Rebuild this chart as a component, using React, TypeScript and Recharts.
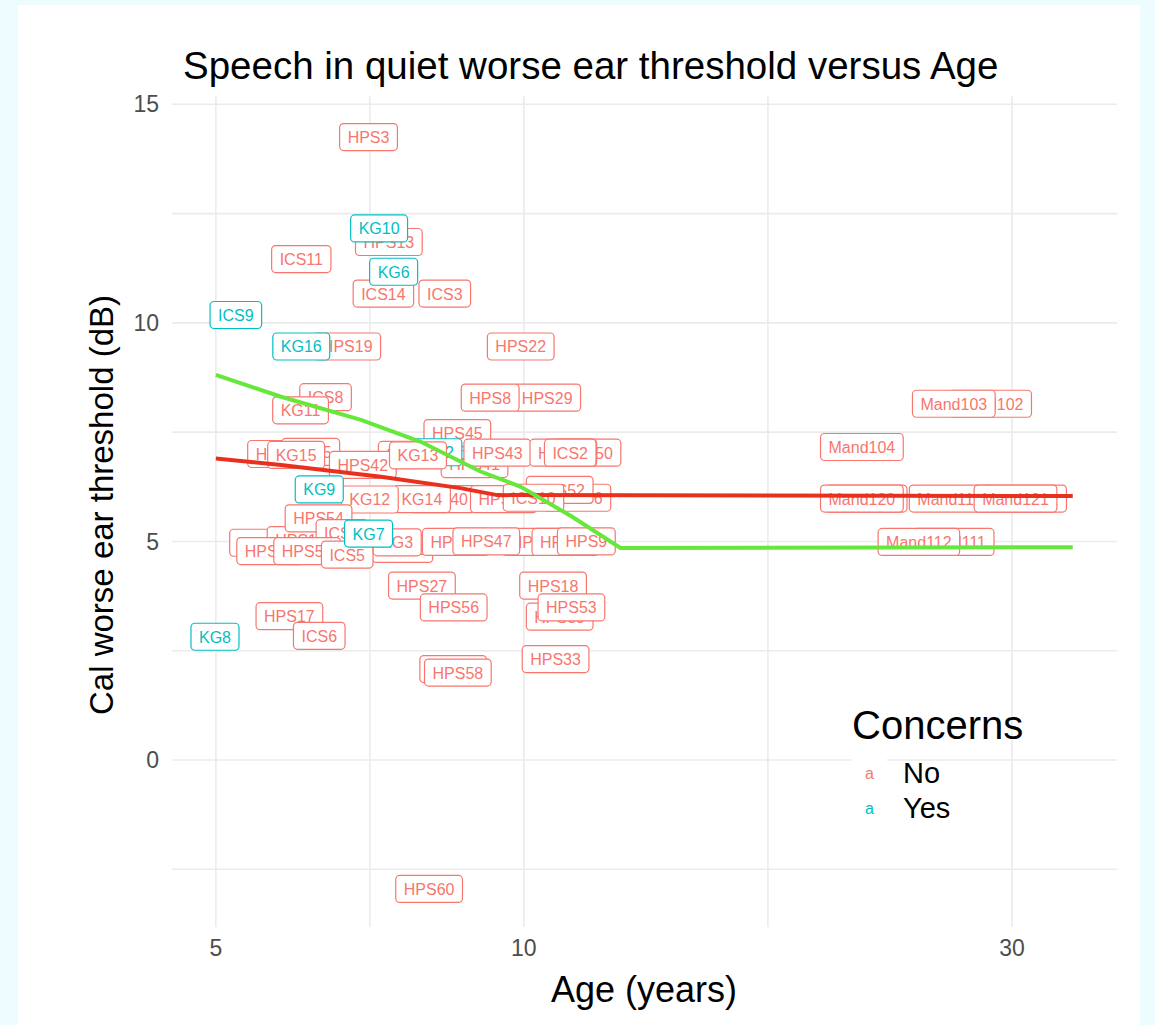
import React from "react";
import {
  CartesianGrid,
  ComposedChart,
  Label,
  Line,
  Scatter,
  XAxis,
  YAxis,
} from "recharts";

// participants, in drawing order (later ones sit on top)
const names = [
  "HPS29", "HPS8", "HPS3", "HPS13", "KG10", "ICS11", "ICS14", "ICS3", "KG6", "ICS9",
  "HPS19", "KG16", "HPS22", "ICS8", "KG11", "HPS45", "HPS44", "HPS41", "HPS12", "HPS5",
  "KG15", "HPS42", "KG2", "KG13", "HPS43", "HPS50", "HPS48", "ICS2", "HPS40", "KG14",
  "HPS46", "HPS36", "HPS52", "ICS10", "KG12", "KG9", "HPS14", "HPS16", "ICS12", "HPS54",
  "ICS7", "HPS24", "HPS57", "ICS5", "KG3", "HPS30", "HPS31", "HPS47", "HPS32", "HPS9",
  "KG7", "HPS27", "HPS56", "HPS18", "HPS39", "HPS53", "HPS17", "ICS6", "KG8", "HPS33",
  "HPS59", "HPS58", "HPS60", "Mand102", "Mand103", "Mand104", "Mand119", "Mand120", "Mand122", "Mand118",
  "Mand121", "Mand111", "Mand112",
];
const ages = [
  10.54, 9.27, 7.05, 7.38, 7.22, 6.06, 7.29, 8.37, 7.46, 5.23,
  6.72, 6.06, 9.93, 6.4, 6.05, 8.61, 7.77, 8.95, 5.79, 6.19,
  5.99, 6.96, 8.24, 7.88, 9.42, 11.54, 10.93, 11.1, 8.33, 7.95,
  9.56, 11.28, 10.84, 10.22, 7.07, 6.31, 5.56, 6.05, 7.61, 6.3,
  6.64, 5.65, 6.14, 6.72, 7.52, 8.58, 10.28, 9.19, 10.98, 11.51,
  7.05, 7.95, 8.54, 10.68, 10.84, 11.13, 5.9, 6.31, 4.99, 10.74,
  8.53, 8.62, 8.08, 28.56, 26.32, 21.4, 21.61, 21.4, 30.9, 26.1,
  30.24, 26.32, 24.33,
];
const thresholds = [
  8.29, 8.29, 14.25, 11.85, 12.16, 11.46, 10.67, 10.67, 11.17, 10.18,
  9.46, 9.46, 9.46, 8.3, 8.0, 7.48, 6.98, 6.77, 7.0, 7.05,
  6.98, 6.75, 7.04, 6.97, 7.03, 7.03, 7.03, 7.03, 5.97, 5.97,
  5.97, 6.0, 6.18, 6.0, 5.96, 6.19, 4.97, 5.03, 4.83, 5.53,
  5.19, 4.78, 4.78, 4.7, 4.98, 4.99, 4.99, 5.0, 4.99, 5.0,
  5.18, 3.99, 3.49, 3.99, 3.28, 3.49, 3.29, 2.84, 2.82, 2.31,
  2.08, 2.0, -2.95, 8.15, 8.15, 7.16, 5.98, 5.98, 5.98, 5.98,
  5.98, 4.99, 4.99,
];
const concerns = [
  "No", "No", "No", "No", "Yes", "No", "No", "No", "Yes", "Yes",
  "No", "Yes", "No", "No", "No", "No", "No", "No", "No", "No",
  "No", "No", "Yes", "No", "No", "No", "No", "No", "No", "No",
  "No", "No", "No", "No", "No", "Yes", "No", "No", "No", "No",
  "No", "No", "No", "No", "No", "No", "No", "No", "No", "No",
  "Yes", "No", "No", "No", "No", "No", "No", "No", "Yes", "No",
  "No", "No", "No", "No", "No", "No", "No", "No", "No", "No",
  "No", "No", "No",
];

// fitted curves
const redFitAges = [5.0, 5.79, 7.25, 8.67, 9.42, 34.4];
const redFitValues = [6.9, 6.75, 6.48, 6.22, 6.06, 6.04];
const greenFitAges = [5.0, 5.79, 6.93, 7.93, 9.07, 9.93, 11.14, 12.43, 34.4];
const greenFitValues = [8.81, 8.31, 7.78, 7.28, 6.6, 6.25, 5.57, 4.85, 4.87];

const xTicks = [5, 7.0711, 10, 17.3205, 30];
const xMajor = [5, 10, 30];
const yTicks = [-2.5, 0, 2.5, 5, 7.5, 10, 12.5, 15];
const yMajor = [0, 5, 10, 15];

const NO_COLOR = "#F8766D";
const YES_COLOR = "#00BFC4";
const FONT = '"Liberation Sans", Arial, sans-serif';

const points = names.map((name, i) => ({
  name,
  age: ages[i],
  thr: thresholds[i],
  concern: concerns[i],
}));
const redFit = redFitAges.map((age, i) => ({ age, thr: redFitValues[i] }));
const greenFit = greenFitAges.map((age, i) => ({ age, thr: greenFitValues[i] }));

let measureCtx: CanvasRenderingContext2D | null = null;
function textWidth(s: string) {
  if (!measureCtx) {
    measureCtx = document.createElement("canvas").getContext("2d");
    if (measureCtx) measureCtx.font = `16px ${FONT}`;
  }
  return measureCtx ? measureCtx.measureText(s).width : s.length * 9;
}

function LabelBox(props: any) {
  const { cx, cy, payload } = props;
  if (cx == null || cy == null) return null;
  const color = payload.concern === "Yes" ? YES_COLOR : NO_COLOR;
  const w = textWidth(payload.name) + 16;
  const h = 27;
  return (
    <g>
      <rect
        x={cx - w / 2}
        y={cy - h / 2}
        width={w}
        height={h}
        rx={4}
        fill="#fff"
        stroke={color}
        strokeWidth={1.2}
      />
      <text
        x={cx}
        y={cy + 6}
        textAnchor="middle"
        fill={color}
        fontSize={16}
        fontFamily={FONT}
      >
        {payload.name}
      </text>
    </g>
  );
}

export default function App() {
  return (
    <div
      style={{
        position: "relative",
        width: 1155,
        height: 1025,
        background: "#EDFCFF",
        fontFamily: FONT,
        overflow: "hidden",
      }}
    >
      <style>{`body{margin:0}`}</style>
      <div
        style={{
          position: "absolute",
          left: 18,
          top: 5,
          width: 1122,
          height: 1020,
          background: "#fff",
        }}
      />
      <div
        style={{
          position: "absolute",
          left: 183,
          top: 44,
          fontSize: 38.5,
          color: "#000",
          whiteSpace: "nowrap",
          lineHeight: "44px",
        }}
      >
        Speech in quiet worse ear threshold versus Age
      </div>
      <div style={{ position: "absolute", left: 0, top: 0 }}>
        <ComposedChart
          width={1155}
          height={1025}
          margin={{ top: 96, right: 38, bottom: 38, left: 92 }}
        >
          <CartesianGrid
            stroke="#EBEBEB"
            strokeWidth={1.6}
            horizontalValues={yTicks}
            verticalValues={xTicks}
          />
          <XAxis
            type="number"
            dataKey="age"
            scale="log"
            domain={[4.53, 38]}
            allowDataOverflow
            ticks={xTicks}
            tickFormatter={(v) => (xMajor.includes(v) ? String(v) : "")}
            tickLine={false}
            axisLine={false}
            tickMargin={7}
            height={60}
            tick={{ fill: "#4D4D4D", fontSize: 23, fontFamily: FONT }}
          >
            <Label
              content={() => (
                <text
                  x={644}
                  y={1002}
                  textAnchor="middle"
                  fontSize={36}
                  fontFamily={FONT}
                  fill="#000"
                >
                  Age (years)
                </text>
              )}
            />
          </XAxis>
          <YAxis
            type="number"
            dataKey="thr"
            domain={[-3.82, 15.19]}
            allowDataOverflow
            ticks={yTicks}
            tickFormatter={(v) => (yMajor.includes(v) ? String(v) : "")}
            tickLine={false}
            axisLine={false}
            tickMargin={7}
            width={80}
            tick={{ fill: "#4D4D4D", fontSize: 23, fontFamily: FONT }}
          >
            <Label
              content={() => (
                <text
                  x={113}
                  y={505}
                  transform="rotate(-90 113 505)"
                  textAnchor="middle"
                  fontSize={33}
                  fontFamily={FONT}
                  fill="#000"
                >
                  Cal worse ear threshold (dB)
                </text>
              )}
            />
          </YAxis>
          <Scatter data={points} shape={LabelBox} isAnimationActive={false} />
          <Line
            data={redFit}
            dataKey="thr"
            type="linear"
            stroke="#E8301E"
            strokeWidth={4}
            dot={false}
            activeDot={false}
            isAnimationActive={false}
            zIndex={1000}
          />
          <Line
            data={greenFit}
            dataKey="thr"
            type="linear"
            stroke="#66E83A"
            strokeWidth={4}
            dot={false}
            activeDot={false}
            isAnimationActive={false}
            zIndex={1001}
          />
        </ComposedChart>
      </div>
      <div style={{ position: "absolute", left: 852, top: 703, color: "#000" }}>
        <div style={{ fontSize: 40, lineHeight: "44px", whiteSpace: "nowrap" }}>
          Concerns
        </div>
        <div style={{ height: 9 }} />
        {["No", "Yes"].map((c) => (
          <div
            key={c}
            style={{ display: "flex", alignItems: "center", height: 35 }}
          >
            <div
              style={{
                width: 35,
                height: 35,
                background: "#fff",
                display: "flex",
                alignItems: "center",
                justifyContent: "center",
                fontSize: 16,
                color: c === "Yes" ? YES_COLOR : NO_COLOR,
              }}
            >
              a
            </div>
            <div style={{ fontSize: 29, marginLeft: 16 }}>{c}</div>
          </div>
        ))}
      </div>
    </div>
  );
}
